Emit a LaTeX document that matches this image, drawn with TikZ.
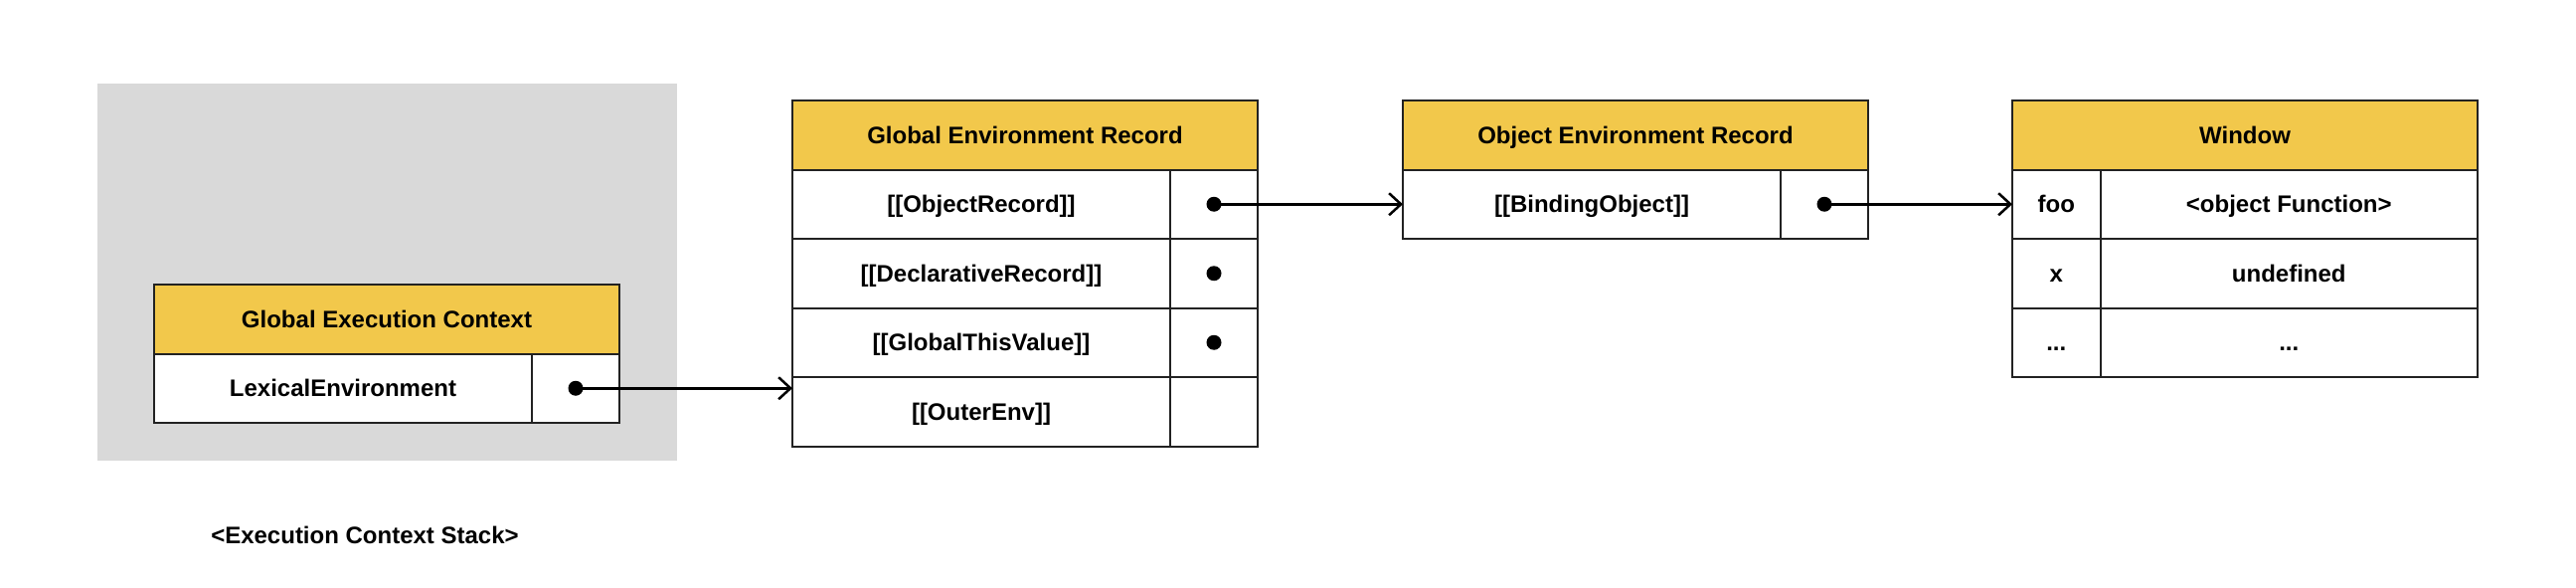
\documentclass[tikz,border=0pt]{standalone}
\usepackage{fontspec}
\setmainfont{Liberation Sans}
\usetikzlibrary{arrows.meta}

\definecolor{headyellow}{HTML}{F2C84B}
\definecolor{stackgray}{HTML}{D9D9D9}
\definecolor{edge}{HTML}{222222}

\tikzset{
	label/.style={font=\bfseries\fontsize{24}{28}\selectfont, text height=17.2pt, text depth=0pt},
	head/.style={label, draw=edge, line width=2pt, fill=headyellow, minimum width=468pt, minimum height=69.5pt, inner sep=0pt, outer sep=0pt, anchor=north west},
	keycell/.style={label, draw=edge, line width=2pt, fill=white, minimum width=380pt, minimum height=69.5pt, inner sep=0pt, outer sep=0pt, anchor=north west},
	valcell/.style={keycell, minimum width=88pt},
	namecell/.style={keycell, minimum width=88.5pt},
	bigcell/.style={keycell, minimum width=379.5pt},
	dot/.style={circle, fill=black, inner sep=0pt, minimum size=15pt},
	link/.style={line width=2.5pt, -{Straight Barb[length=12pt, width=22pt, line width=2.5pt]}}
}

\begin{document}
\begin{tikzpicture}[x=1pt, y=-1pt]
	\useasboundingbox (0,0) rectangle (2591,591);

	% stack background
	\fill[stackgray] (97.5,84) rectangle (681,463);
	\node[label] (stacklabel) at (367,538) {<Execution Context Stack>};

	% global execution context
	\node[head] (gec) at (155,286) {Global Execution Context};
	\node[keycell] (gec1) at (gec.south west) {LexicalEnvironment};
	\node[valcell] (gec1v) at (gec1.north east) {};
	\node[dot] (gec1dot) at (gec1v.center) {};

	% global environment record
	\node[head] (ger) at (797,101) {Global Environment Record};
	\node[keycell] (ger1) at (ger.south west) {[[ObjectRecord]]};
	\node[valcell] (ger1v) at (ger1.north east) {};
	\node[keycell] (ger2) at (ger1.south west) {[[DeclarativeRecord]]};
	\node[valcell] (ger2v) at (ger2.north east) {};
	\node[keycell] (ger3) at (ger2.south west) {[[GlobalThisValue]]};
	\node[valcell] (ger3v) at (ger3.north east) {};
	\node[keycell] (ger4) at (ger3.south west) {[[OuterEnv]]};
	\node[valcell] (ger4v) at (ger4.north east) {};
	\node[dot] (ger1dot) at (ger1v.center) {};
	\node[dot] (ger2dot) at (ger2v.center) {};
	\node[dot] (ger3dot) at (ger3v.center) {};

	% object environment record
	\node[head] (oer) at (1411,101) {Object Environment Record};
	\node[keycell] (oer1) at (oer.south west) {[[BindingObject]]};
	\node[valcell] (oer1v) at (oer1.north east) {};
	\node[dot] (oer1dot) at (oer1v.center) {};

	% window object
	\node[head] (win) at (2024,101) {Window};
	\node[namecell] (win1) at (win.south west) {foo};
	\node[bigcell] (win1v) at (win1.north east) {<object Function>};
	\node[namecell] (win2) at (win1.south west) {x};
	\node[bigcell] (win2v) at (win2.north east) {undefined};
	\node[namecell] (win3) at (win2.south west) {...};
	\node[bigcell] (win3v) at (win3.north east) {...};

	% links
	\draw[link] (gec1dot.center) -- (gec1dot.center -| ger4.west);
	\draw[link] (ger1dot.center) -- (oer1.west);
	\draw[link] (oer1dot.center) -- (win1.west);
\end{tikzpicture}
\end{document}
